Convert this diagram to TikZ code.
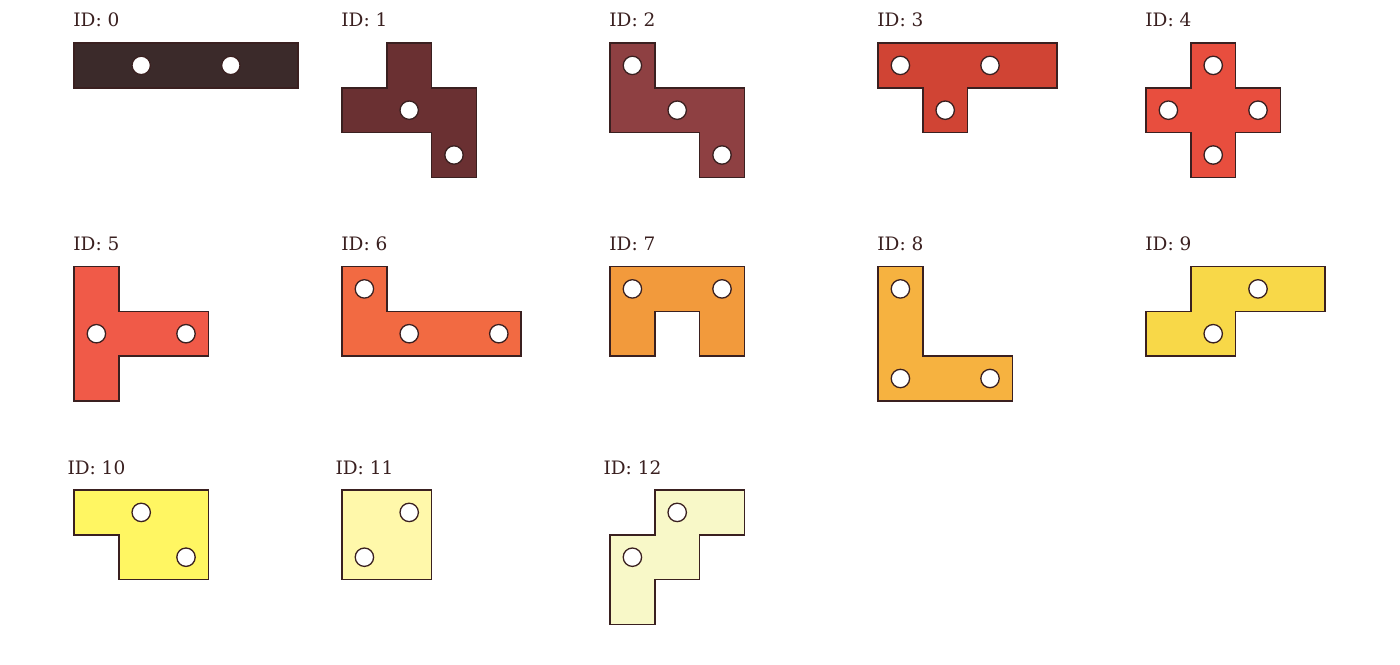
\documentclass[tikz,border=0pt]{standalone}
\usepackage{fontspec}
\setmainfont{DejaVu Serif}
\definecolor{ink}{HTML}{3A2020}
\definecolor{c0}{HTML}{3B2A2A}
\definecolor{c1}{HTML}{6A3032}
\definecolor{c2}{HTML}{8E4042}
\definecolor{c3}{HTML}{D04434}
\definecolor{c4}{HTML}{E84E3E}
\definecolor{c5}{HTML}{F05A48}
\definecolor{c6}{HTML}{F26A42}
\definecolor{c7}{HTML}{F29A3C}
\definecolor{c8}{HTML}{F6B240}
\definecolor{c9}{HTML}{F8D848}
\definecolor{c10}{HTML}{FFF662}
\definecolor{c11}{HTML}{FFF8AA}
\definecolor{c12}{HTML}{F8F8C8}
\tikzset{
  piece/.style={draw=ink, line width=1.5bp, line join=miter},
  hole/.style={draw=ink, fill=white, line width=1.3bp},
  idlabel/.style={anchor=base, text=ink, font=\fontsize{18.5bp}{20bp}\selectfont, inner sep=0pt}
}
% \pc{name}{x0}{y0}{colour}{polygon}{holes}
\newcommand{\pc}[6]{%
  \node[idlabel] (#1lab) at (#2+22.4,#3-16) {ID: #1};
  \begin{scope}[shift={(#2,#3)}, x=44.8bp, y=-44.8bp]
    \draw[piece, fill=#4] #5 -- cycle;
    \foreach \hx/\hy in {#6} { \draw[hole] (\hx,\hy) circle[radius=9.2bp]; }
  \end{scope}}
\begin{document}
\begin{tikzpicture}[x=1bp, y=-1bp]
\useasboundingbox (0,0) rectangle (1400,665);
\fill[white] (0,0) rectangle (1400,665);
\pc{0}{74}{43}{c0}{(0,0)--(5,0)--(5,1)--(0,1)}{1.5/.5,3.5/.5}
\pc{1}{342}{43}{c1}{(1,0)--(2,0)--(2,1)--(3,1)--(3,3)--(2,3)--(2,2)--(0,2)--(0,1)--(1,1)}{1.5/1.5,2.5/2.5}
\pc{2}{610}{43}{c2}{(0,0)--(1,0)--(1,1)--(3,1)--(3,3)--(2,3)--(2,2)--(0,2)}{.5/.5,1.5/1.5,2.5/2.5}
\pc{3}{878}{43}{c3}{(0,0)--(4,0)--(4,1)--(2,1)--(2,2)--(1,2)--(1,1)--(0,1)}{.5/.5,2.5/.5,1.5/1.5}
\pc{4}{1146}{43}{c4}{(1,0)--(2,0)--(2,1)--(3,1)--(3,2)--(2,2)--(2,3)--(1,3)--(1,2)--(0,2)--(0,1)--(1,1)}{1.5/.5,.5/1.5,2.5/1.5,1.5/2.5}
\pc{5}{74}{266.5}{c5}{(0,0)--(1,0)--(1,1)--(3,1)--(3,2)--(1,2)--(1,3)--(0,3)}{.5/1.5,2.5/1.5}
\pc{6}{342}{266.5}{c6}{(0,0)--(1,0)--(1,1)--(4,1)--(4,2)--(0,2)}{.5/.5,1.5/1.5,3.5/1.5}
\pc{7}{610}{266.5}{c7}{(0,0)--(3,0)--(3,2)--(2,2)--(2,1)--(1,1)--(1,2)--(0,2)}{.5/.5,2.5/.5}
\pc{8}{878}{266.5}{c8}{(0,0)--(1,0)--(1,2)--(3,2)--(3,3)--(0,3)}{.5/.5,.5/2.5,2.5/2.5}
\pc{9}{1146}{266.5}{c9}{(1,0)--(4,0)--(4,1)--(2,1)--(2,2)--(0,2)--(0,1)--(1,1)}{2.5/.5,1.5/1.5}
\pc{10}{74}{490}{c10}{(0,0)--(3,0)--(3,2)--(1,2)--(1,1)--(0,1)}{1.5/.5,2.5/1.5}
\pc{11}{342}{490}{c11}{(0,0)--(2,0)--(2,2)--(0,2)}{1.5/.5,.5/1.5}
\pc{12}{610}{490}{c12}{(1,0)--(3,0)--(3,1)--(2,1)--(2,2)--(1,2)--(1,3)--(0,3)--(0,1)--(1,1)}{1.5/.5,.5/1.5}
\end{tikzpicture}
\end{document}
